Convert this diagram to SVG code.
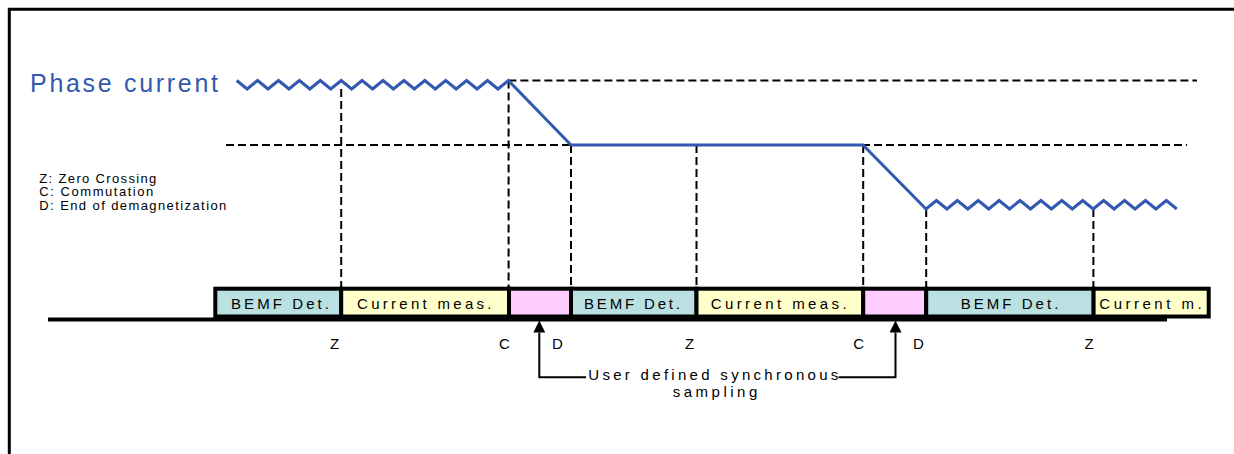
<svg xmlns="http://www.w3.org/2000/svg" width="1234" height="454" viewBox="0 0 1234 454">
<style>
text{font-family:"Liberation Sans",Arial,sans-serif;fill:#000}
.lbl{font-size:15px}
.leg{font-size:13px}
.box{stroke:#000;stroke-width:4}
.bemf{fill:#BAE0E2}
.cur{fill:#FFFFCC}
.pink{fill:#FFCCFF}
.dash{fill:none;stroke:#000;stroke-width:2;stroke-dasharray:8 4}
.wave{fill:none;stroke:#3259AF;stroke-width:3;stroke-linejoin:miter}
.conn{fill:none;stroke:#000;stroke-width:2}
</style>
<defs>
<marker id="arr" markerUnits="userSpaceOnUse" markerWidth="12" markerHeight="12" refX="0" refY="5.5" orient="auto" viewBox="0 0 11 11">
<path d="M0,0 L11,5.5 L0,11 z" fill="#000"/>
</marker>
</defs>

<g id="frame">
<path d="M9.3,454 V9.3 H1234" fill="none" stroke="#000" stroke-width="3"/>
</g>

<g id="guides">
<line class="dash" x1="508.4" y1="80.5" x2="1197" y2="80.5"/>
<line class="dash" x1="226" y1="145" x2="1187" y2="145"/>
<line class="dash" x1="341.2" y1="89" x2="341.2" y2="287"/>
<line class="dash" x1="508.6" y1="80.5" x2="508.6" y2="287"/>
<line class="dash" x1="571" y1="145" x2="571" y2="287"/>
<line class="dash" x1="696.5" y1="145" x2="696.5" y2="287"/>
<line class="dash" x1="863.2" y1="145" x2="863.2" y2="287"/>
<line class="dash" x1="926.2" y1="209" x2="926.2" y2="287"/>
<line class="dash" x1="1093.4" y1="209" x2="1093.4" y2="287"/>
</g>

<g id="phase-current">
<text x="30" y="91.7" style="font-size:25px;fill:#3259AF" textLength="188">Phase current</text>
<polyline class="wave" points="236.7,80.5 247.15,89 257.6,80.5 268.05,89 278.5,80.5 288.95,89 299.4,80.5 309.85,89 320.3,80.5 330.75,89 341.2,80.5 351.65,89 362.1,80.5 372.55,89 383,80.5 393.45,89 403.9,80.5 414.35,89 424.8,80.5 435.25,89 445.7,80.5 456.15,89 466.6,80.5 477.05,89 487.5,80.5 497.95,89 508.4,80.5 571,145 863,145 926,209 936.45,200.5 946.9,209 957.35,200.5 967.8,209 978.25,200.5 988.7,209 999.15,200.5 1009.6,209 1020.05,200.5 1030.5,209 1040.95,200.5 1051.4,209 1061.85,200.5 1072.3,209 1082.75,200.5 1093.2,209 1103.65,200.5 1114.1,209 1124.55,200.5 1135,209 1145.45,200.5 1155.9,209 1166.35,200.5 1176.8,209"/>
</g>

<g id="legend">
<text class="leg" x="39.3" y="182.5" textLength="117">Z: Zero Crossing</text>
<text class="leg" x="39.3" y="196" textLength="114">C: Commutation</text>
<text class="leg" x="39.3" y="209.5" textLength="187">D: End of demagnetization</text>
</g>

<g id="baseline">
<line x1="48" y1="319.5" x2="1167" y2="319.5" stroke="#000" stroke-width="4"/>
</g>

<g id="seg1"><rect class="box bemf" x="215.3" y="288.7" width="125.9" height="27.8"/><text class="lbl" x="231" y="309" textLength="98">BEMF Det.</text></g>
<g id="seg2"><rect class="box cur" x="341.2" y="288.7" width="167.8" height="27.8"/><text class="lbl" x="357" y="309" textLength="134.5">Current meas.</text></g>
<g id="seg3"><rect class="box pink" x="509" y="288.7" width="62" height="27.8"/></g>
<g id="seg4"><rect class="box bemf" x="571" y="288.7" width="125.5" height="27.8"/><text class="lbl" x="584" y="309" textLength="96">BEMF Det.</text></g>
<g id="seg5"><rect class="box cur" x="696.5" y="288.7" width="166.7" height="27.8"/><text class="lbl" x="710.7" y="309" textLength="136">Current meas.</text></g>
<g id="seg6"><rect class="box pink" x="863.2" y="288.7" width="63" height="27.8"/></g>
<g id="seg7"><rect class="box bemf" x="926.2" y="288.7" width="167.4" height="27.8"/><text class="lbl" x="960.7" y="309" textLength="97.6">BEMF Det.</text></g>
<g id="seg8"><rect class="box cur" x="1093.6" y="288.7" width="115.1" height="27.8"/><text class="lbl" x="1099.3" y="309" textLength="102.4">Current m.</text></g>

<g id="events">
<text class="lbl" x="330" y="349">Z</text>
<text class="lbl" x="499" y="349">C</text>
<text class="lbl" x="552" y="349">D</text>
<text class="lbl" x="685" y="349">Z</text>
<text class="lbl" x="853.3" y="349">C</text>
<text class="lbl" x="913" y="349">D</text>
<text class="lbl" x="1084.5" y="349">Z</text>
</g>

<g id="sampling-label">
<text class="lbl" x="588.3" y="380" textLength="250">User defined synchronous</text>
<text class="lbl" x="672.7" y="396.5" textLength="84.6">sampling</text>
</g>

<g id="connectors">
<polyline class="conn" points="586,377.3 539.3,377.3 539.3,332.5" marker-end="url(#arr)"/>
<polyline class="conn" points="838.5,377.3 895.5,377.3 895.5,332.5" marker-end="url(#arr)"/>
</g>
</svg>
